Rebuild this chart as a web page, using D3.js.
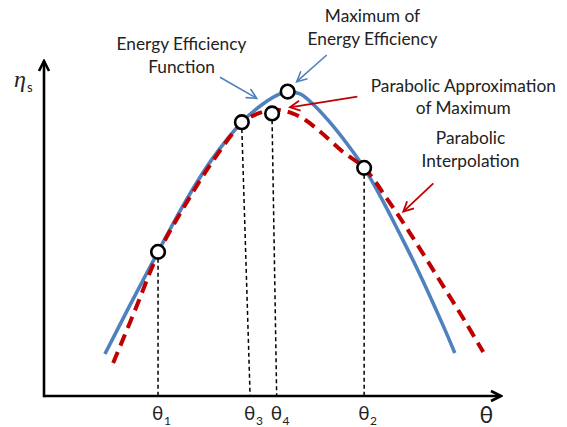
<!DOCTYPE html>
<html>
<head>
<meta charset="utf-8">
<script src="https://cdn.jsdelivr.net/npm/d3@7"></script>
<style>
  html, body { margin: 0; padding: 0; background: #fff; }
  svg { display: block; }
  .note { font-family: Lato, "Open Sans", sans-serif; font-size: 17.3px; fill: #222; }
</style>
</head>
<body>
<svg id="chart" width="567" height="427"></svg>
<script>
// Energy efficiency curve (theta, eta) in arbitrary units
const effTheta = [13.3, 18.8, 24.9, 30.8, 36.7, 43.2, 47.8, 51.5, 53.3, 55.9, 58.7, 62.4, 66.2, 69.9, 74.0, 77.7, 81.4, 87.1, 89.7];
const effEta   = [12.5, 27.1, 42.9, 57.7, 70.5, 81.5, 86.9, 89.9, 90.5, 89.9, 86.9, 81.5, 75.0, 67.9, 58.0, 48.2, 38.1, 21.1, 12.8];

// Parabolic interpolation through the three sampled points
const parTheta = [15.1, 19.9, 24.9, 30.8, 36.7, 43.2, 45.9, 48.5, 51.1, 54.1, 57.0, 60.7, 65.3, 69.9, 75.1, 79.9, 85.8, 91.9, 95.9];
const parEta   = [ 9.8, 25.6, 42.3, 56.8, 69.6, 81.3, 83.6, 84.8, 85.1, 84.2, 82.2, 78.2, 72.6, 67.9, 58.3, 48.5, 35.7, 22.3, 13.1];

// Sampled points: theta1, theta3, theta4, true maximum, theta2
const pointTheta = [24.9, 43.2, 49.8, 53.2, 69.9];
const pointEta   = [42.9, 81.5, 84.1, 90.6, 67.9];
const pointTick  = [0, 1, 2, -1, 3];   // index into the axis ticks (-1: no drop line)

// Axis ticks
const tickTheta = [24.9, 45.0, 50.8, 69.9];
const tickSub   = ["1", "3", "4", "2"];

const svg = d3.select("#chart");
const x = d3.scaleLinear().domain([0, 100]).range([44, 502]);
const y = d3.scaleLinear().domain([0, 100]).range([396, 60]);

const BLUE = "#4F81BD", RED = "#C00000";

// Arrowhead markers
const defs = svg.append("defs");
function marker(id, color, size, sw) {
  defs.append("marker")
    .attr("id", id)
    .attr("markerUnits", "userSpaceOnUse")
    .attr("viewBox", "-14 -8 16 16")
    .attr("refX", 0).attr("refY", 0)
    .attr("markerWidth", 16).attr("markerHeight", 16)
    .attr("orient", "auto")
    .append("path")
    .attr("d", `M${-size},${-size * 0.5} L0,0 L${-size},${size * 0.5}`)
    .attr("fill", "none")
    .attr("stroke", color)
    .attr("stroke-width", sw)
    .attr("stroke-linejoin", "miter");
}
marker("axisHead", "#000", 10, 2.6);
marker("blueHead", BLUE, 10, 1.6);
marker("redHead", RED, 10, 1.8);

// Axes with arrow tips
const [x0, x1] = x.range();
const [y0, y1] = y.range();
svg.append("line")
  .attr("x1", x0).attr("y1", y0).attr("x2", x1 - 1).attr("y2", y0)
  .attr("stroke", "#000").attr("stroke-width", 2.6)
  .attr("marker-end", "url(#axisHead)");
svg.append("line")
  .attr("x1", x0).attr("y1", y0 + 1.3).attr("x2", x0).attr("y2", y1 + 1)
  .attr("stroke", "#000").attr("stroke-width", 2.6)
  .attr("marker-end", "url(#axisHead)");

// Curves
const line = d3.line().x(d => x(d[0])).y(d => y(d[1])).curve(d3.curveCatmullRom.alpha(0.5));
svg.append("path")
  .datum(d3.zip(effTheta, effEta))
  .attr("d", line)
  .attr("fill", "none").attr("stroke", BLUE).attr("stroke-width", 3.6);
svg.append("path")
  .datum(d3.zip(parTheta, parEta))
  .attr("d", line)
  .attr("fill", "none").attr("stroke", RED).attr("stroke-width", 4)
  .attr("stroke-dasharray", "12,7");

// Drop lines from sampled points to the theta axis
const R = 6.8;
const pts = pointTheta.map((t, i) => ({ t, e: pointEta[i], k: pointTick[i] }));
svg.append("g").selectAll("line")
  .data(pts.filter(d => d.k >= 0))
  .join("line")
  .attr("x1", d => x(d.t)).attr("y1", d => y(d.e) + R)
  .attr("x2", d => x(tickTheta[d.k])).attr("y2", y0)
  .attr("stroke", "#000").attr("stroke-width", 1.5)
  .attr("stroke-dasharray", "4,3");

// Sample markers
svg.append("g").selectAll("circle")
  .data(pts)
  .join("circle")
  .attr("cx", d => x(d.t)).attr("cy", d => y(d.e)).attr("r", R)
  .attr("fill", "#fff").attr("stroke", "#000").attr("stroke-width", 2.6);

// Tick labels θ with subscripts
const tl = svg.append("g").selectAll("text")
  .data(tickTheta)
  .join("text")
  .attr("x", d => x(d) - 6).attr("y", 420)
  .attr("font-family", "Lato, 'Open Sans', sans-serif")
  .attr("font-size", 19).attr("fill", "#222");
tl.append("tspan").text("θ");
tl.append("tspan").attr("font-size", 12).attr("dy", 5).attr("dx", 0.5).text((d, i) => tickSub[i]);

// Axis titles
svg.append("text")
  .attr("x", 479.5).attr("y", 423)
  .attr("font-family", "Lato, 'Open Sans', sans-serif")
  .attr("font-size", 23).attr("fill", "#222").text("θ");
const eta = svg.append("text").attr("x", 14).attr("y", 87).attr("fill", "#222");
eta.append("tspan").attr("font-family", "'Liberation Serif', serif").attr("font-style", "italic").attr("font-size", 24).text("η");
eta.append("tspan").attr("font-family", "Lato, sans-serif").attr("font-size", 13).attr("dy", 5).attr("dx", 1).text("s");

// Annotations
const notes = [
  { lines: ["Energy Efficiency", "Function"], cx: 181.5, y: 50 },
  { lines: ["Maximum of", "Energy Efficiency"], cx: 372.5, y: 22 },
  { lines: ["Parabolic Approximation", "of Maximum"], cx: 463.3, y: 91.7 },
  { lines: ["Parabolic", "Interpolation"], cx: 470.5, y: 144.3 }
];
notes.forEach(n => {
  svg.append("text").attr("class", "note").attr("text-anchor", "middle")
    .selectAll("tspan").data(n.lines).join("tspan")
    .attr("x", n.cx).attr("y", (d, i) => n.y + i * 22.5).text(d => d);
});

const arrows = [
  { from: [220, 77.3], to: [256.7, 98.3], color: BLUE, w: 1.6, head: "blueHead" },
  { from: [326.7, 55], to: [296.7, 81.7], color: BLUE, w: 1.6, head: "blueHead" },
  { from: [357.3, 96.7], to: [290, 107.3], color: RED, w: 1.8, head: "redHead" },
  { from: [433.3, 183.3], to: [403.3, 211.7], color: RED, w: 1.8, head: "redHead" }
];
svg.append("g").selectAll("line")
  .data(arrows)
  .join("line")
  .attr("x1", d => d.from[0]).attr("y1", d => d.from[1])
  .attr("x2", d => d.to[0]).attr("y2", d => d.to[1])
  .attr("stroke", d => d.color).attr("stroke-width", d => d.w)
  .attr("marker-end", d => `url(#${d.head})`);
</script>
</body>
</html>
